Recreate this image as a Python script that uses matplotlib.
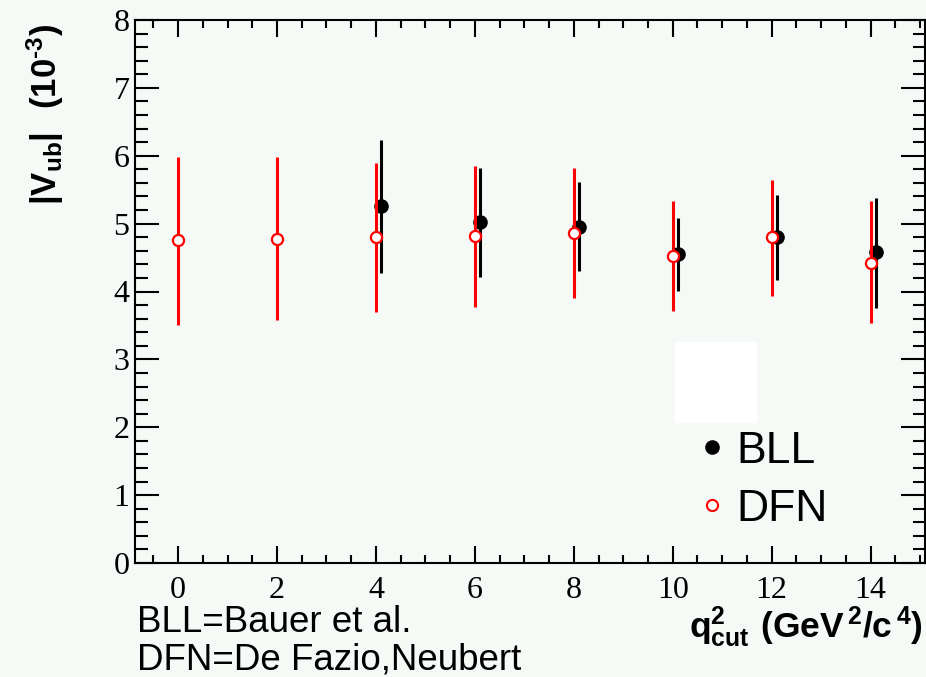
import numpy as np
import matplotlib.pyplot as plt
from matplotlib.lines import Line2D
from matplotlib.patches import Rectangle

plt.rcParams['mathtext.fontset'] = 'custom'
plt.rcParams['mathtext.rm'] = 'Liberation Sans'
plt.rcParams['mathtext.bf'] = 'Liberation Sans:bold'

# q^2 cut values
q2_dfn = [0, 2, 4, 6, 8, 10, 12, 14]
q2_bll = [4, 6, 8, 10, 12, 14]

# DFN = De Fazio, Neubert
vub_dfn = [4.76, 4.77, 4.80, 4.82, 4.86, 4.52, 4.80, 4.42]
dfn_hi = [5.98, 5.98, 5.90, 5.85, 5.82, 5.33, 5.64, 5.33]
dfn_lo = [3.50, 3.58, 3.70, 3.77, 3.90, 3.72, 3.93, 3.53]

# BLL = Bauer et al.
vub_bll = [5.26, 5.02, 4.95, 4.55, 4.81, 4.58]
bll_hi = [6.23, 5.82, 5.61, 5.09, 5.42, 5.38]
bll_lo = [4.27, 4.21, 4.30, 4.01, 4.17, 3.76]

bll_shift = 0.11
bg = '#f5faf7'

fig = plt.figure(figsize=(9.26, 6.77), dpi=100, facecolor=bg)
ax = fig.add_axes([135/926, 1 - 563/677, 790/926, 543/677], facecolor=bg)

vb = np.array(vub_bll)
ax.errorbar(np.array(q2_bll) + bll_shift, vb,
            yerr=[vb - np.array(bll_lo), np.array(bll_hi) - vb],
            fmt='o', color='black', ms=9.5, elinewidth=2.2, capsize=0, zorder=2)
vd = np.array(vub_dfn)
ax.errorbar(q2_dfn, vd,
            yerr=[vd - np.array(dfn_lo), np.array(dfn_hi) - vd],
            fmt='o', color='red', mfc='white', mec='red', ms=8, mew=1.6,
            elinewidth=2.2, capsize=0, zorder=3)

ax.set_xlim(-0.87, 15.1)
ax.set_ylim(0, 8)
ax.set_xticks(np.arange(0, 15, 2))
ax.set_xticks(np.arange(-0.5, 15.1, 0.5), minor=True)
ax.set_yticks(np.arange(0, 9, 1))
ax.set_yticks(np.arange(0, 8.01, 0.2), minor=True)

for s in ax.spines.values():
    s.set_linewidth(1.5)
ax.tick_params(axis='x', which='major', direction='in', length=12, width=1.5,
               top=True, pad=9)
ax.tick_params(axis='x', which='minor', direction='in', length=6, width=1.5, top=True)
ax.tick_params(axis='y', which='major', direction='in', length=17, width=1.5,
               right=True, pad=4)
ax.tick_params(axis='y', which='minor', direction='in', length=9, width=1.5, right=True)
for lab in ax.get_xticklabels() + ax.get_yticklabels():
    lab.set_family('Liberation Serif')
    lab.set_fontsize(23)

# blank box left by the original legend
fig.patches.append(Rectangle((675/926, 1 - 423/677), 82/926, 81/677,
                             transform=fig.transFigure, facecolor='white',
                             edgecolor='none', zorder=5))

handles = [Line2D([], [], ls='none', marker='o', color='black', ms=9.5),
           Line2D([], [], ls='none', marker='o', mfc='white', mec='red', ms=8, mew=1.5)]
fig.legend(handles, ['BLL', 'DFN'], loc='upper left',
           bbox_to_anchor=(694/926, 1 - 431/677), frameon=False,
           prop={'family': 'Liberation Sans', 'size': 32},
           handlelength=0.8, handletextpad=0.15, labelspacing=0.38,
           borderpad=0, borderaxespad=0)

fig.text(45/926, 1 - 114/677, r'$\mathbf{|V_{ub}|\ \ (10^{‐3})}$', rotation=90,
         ha='center', va='center', fontsize=25)
fig.text(923/926, 1 - 627/677, r'$\mathbf{q^{2}_{cut}\ (GeV^{\,2}/c^{\,4})}$',
         ha='right', va='center', fontsize=25.5)

fig.text(137/926, 1 - 622/677, 'BLL=Bauer et al.', family='Liberation Sans',
         fontsize=26.5, va='center')
fig.text(137/926, 1 - 660/677, 'DFN=De Fazio,Neubert', family='Liberation Sans',
         fontsize=26.5, va='center')

fig.savefig('out.png', dpi=100, facecolor=bg)
